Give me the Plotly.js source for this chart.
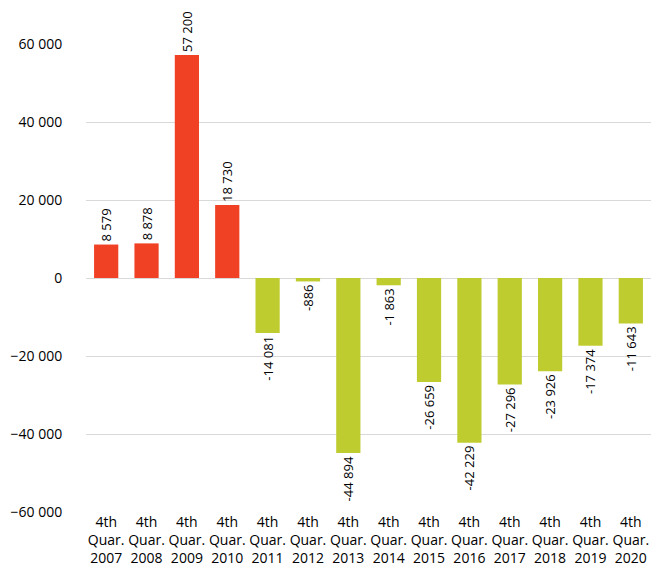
<!DOCTYPE html>
<html><head><meta charset="utf-8">
<script src="https://cdn.plot.ly/plotly-3.0.1.min.js"></script>
<style>body{margin:0;background:#fff}#c{width:653px;height:574px}</style>
</head><body><div id="c"></div>
<script>
const categories = ["4th<br>Quar.<br>2007","4th<br>Quar.<br>2008","4th<br>Quar.<br>2009","4th<br>Quar.<br>2010","4th<br>Quar.<br>2011","4th<br>Quar.<br>2012","4th<br>Quar.<br>2013","4th<br>Quar.<br>2014","4th<br>Quar.<br>2015","4th<br>Quar.<br>2016","4th<br>Quar.<br>2017","4th<br>Quar.<br>2018","4th<br>Quar.<br>2019","4th<br>Quar.<br>2020"];
const values = [8579, 8878, 57200, 18730, -14081, -886, -44894, -1863, -26659, -42229, -27296, -23926, -17374, -11643];
const tickVals = [-60000, -40000, -20000, 0, 20000, 40000, 60000];

const colors = values.map(v => v >= 0 ? '#F04124' : '#BFCC30');
const font = "Open Sans, Liberation Sans, sans-serif";

Plotly.newPlot('c', [{
  type: 'bar',
  x: categories,
  y: values,
  marker: {color: colors},
  texttemplate: '%{y:,d}',
  textposition: 'outside',
  textangle: -90,
  constraintext: 'none',
  cliponaxis: false,
  textfont: {family: font, size: 13, color: '#000'},
  hoverinfo: 'none'
}], {
  width: 653, height: 574,
  margin: {l: 86, r: 2, t: 44, b: 62},
  separators: ', ',
  bargap: 0.4,
  showlegend: false,
  paper_bgcolor: '#fff', plot_bgcolor: '#fff',
  font: {family: font, size: 14, color: '#000'},
  xaxis: {
    type: 'category', showgrid: false, zeroline: false, showline: false,
    ticks: '', ticklen: 0,
    tickfont: {family: font, size: 14, color: '#000'}
  },
  yaxis: {
    range: [-60000, 60000], tickvals: tickVals, tickformat: ',d',
    showgrid: true, gridcolor: '#D9D9D9', gridwidth: 1,
    zeroline: true, zerolinecolor: '#D9D9D9', zerolinewidth: 1,
    showline: false,
    ticks: 'outside', ticklen: 20, tickcolor: 'rgba(0,0,0,0)',
    tickfont: {family: font, size: 14, color: '#000'}
  }
}, {displayModeBar: false, staticPlot: true});
</script></body></html>
